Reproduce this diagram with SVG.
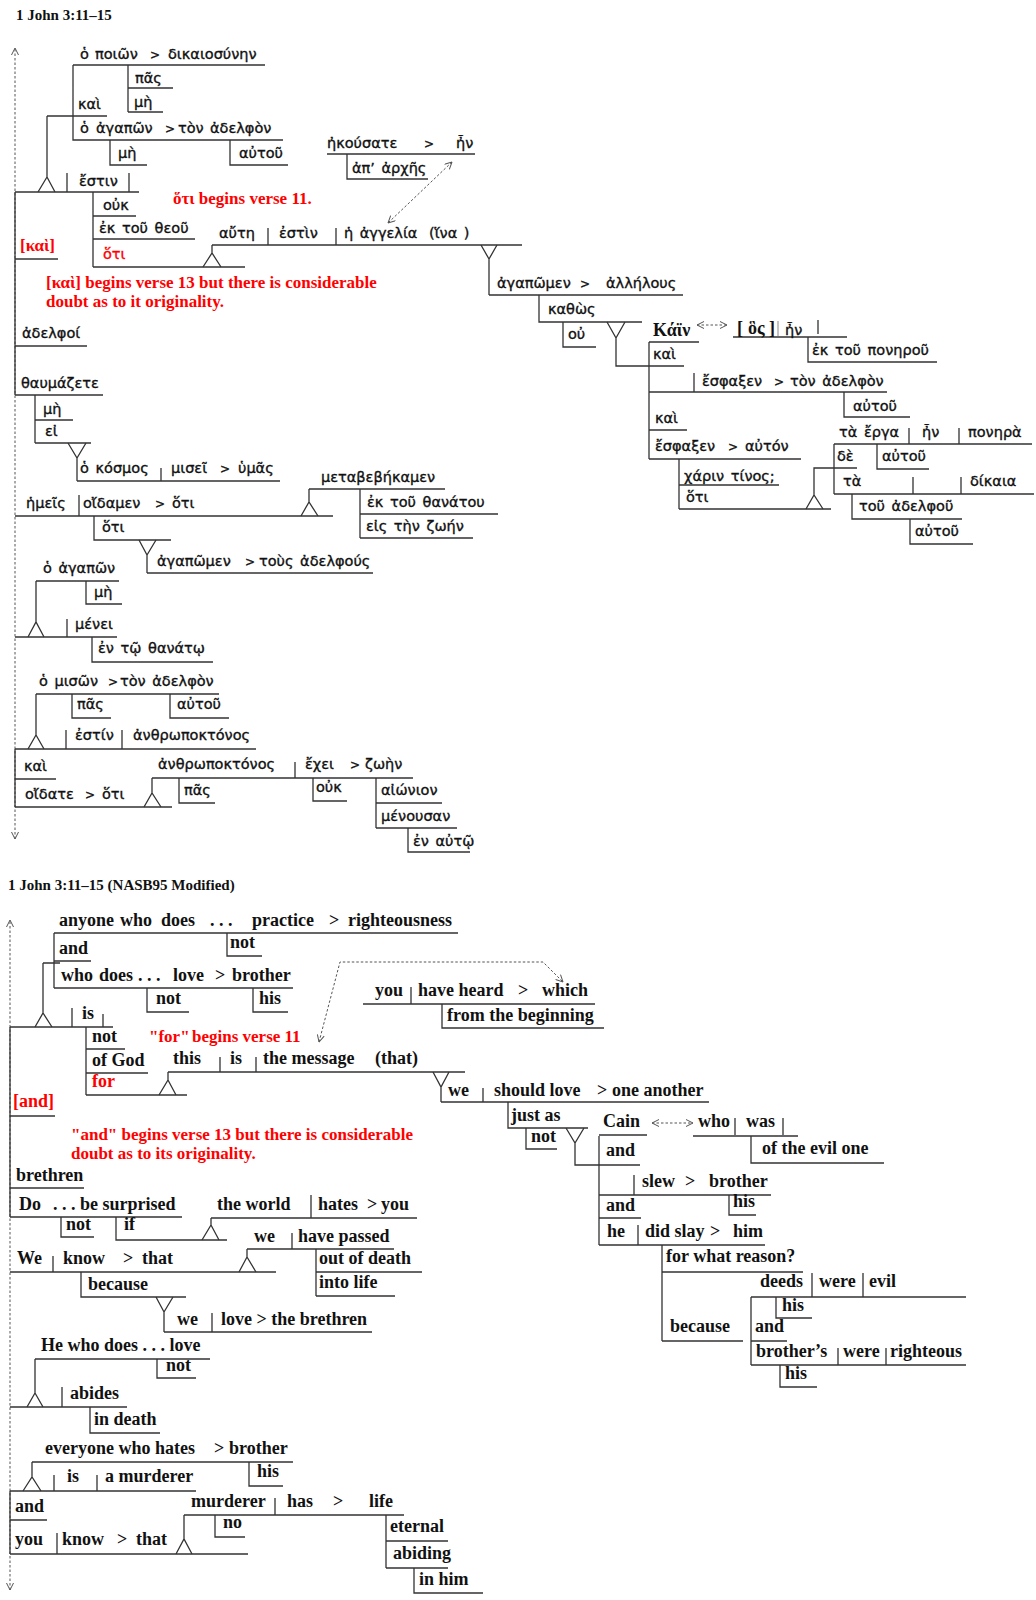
<svg xmlns="http://www.w3.org/2000/svg" width="1036" height="1600" viewBox="0 0 1036 1600">
<style>
.l{stroke:#333;stroke-width:1.3;fill:none}
.d{stroke:#555;stroke-width:1;stroke-dasharray:2.5 2;fill:none}
.g{font-family:"DejaVu Sans",sans-serif;font-size:14.5px;word-spacing:2px;fill:#111;stroke:#111;stroke-width:0.35}
.gt{font-size:12px}
.e{font-family:"Liberation Serif",serif;font-weight:bold;font-size:18px;fill:#111}
.t{font-family:"Liberation Serif",serif;font-weight:bold;font-size:15px;fill:#111}
.r{fill:#f00;stroke:#f00}
.rf{fill:#f00}
.rs{font-family:"Liberation Serif",serif;font-weight:bold;font-size:17px;fill:#f00}
</style>
<defs>
<marker id="ah" viewBox="0 0 8 8" refX="7.5" refY="4" markerWidth="8" markerHeight="8" markerUnits="userSpaceOnUse" orient="auto-start-reverse">
<path d="M0.5,0.5 L7.5,4 L0.5,7.5" fill="none" stroke="#555" stroke-width="1"/>
</marker>
</defs>
<rect width="1036" height="1600" fill="#fff"/>

<text class="t" x="16" y="20">1 John 3:11–15</text>

<g id="connectors">
<path class="d" d="M15 839 V48" marker-start="url(#ah)" marker-end="url(#ah)"/>
<path class="l" d="M15 192 V395 M15 749 V807"/>
<path class="d" d="M452 162 L388 223" marker-start="url(#ah)" marker-end="url(#ah)"/>
<path class="d" d="M697 325 H727" marker-start="url(#ah)" marker-end="url(#ah)"/>
<path class="l" d="M47 116 H107 M47 116 V177 M38 192 L47 177 L55 192"/>
<path class="l" d="M203 267 L212 253 L221 267 M212 253 V245"/>
<path class="l" d="M481 245 L489 259 L497 245 M489 259 V295"/>
<path class="l" d="M607 322 L616 338 L625 322 M616 338 V366 H649"/>
<path class="l" d="M806 509 L814 495 L823 509 M814 495 V468 H834"/>
<path class="l" d="M68 443 L77 458 L86 443 M77 458 V481"/>
<path class="l" d="M301 516 L309 502 L318 516 M309 502 V489"/>
<path class="l" d="M139 540 L147 555 L156 540 M147 555 V573"/>
<path class="l" d="M36 581 V622 M28 637 L36 622 L44 637"/>
<path class="l" d="M36 694 V735 M28 749 L36 735 L44 749"/>
<path class="l" d="M144 807 L152 793 L161 807 M152 793 V778"/>

<path class="d" d="M10 1590 V920" marker-start="url(#ah)" marker-end="url(#ah)"/>
<path class="l" d="M10 1027 V1217 M10 1491 V1554"/>
<path class="d" d="M319 1042 L340 962 H543 L563 982" marker-start="url(#ah)" marker-end="url(#ah)"/>
<path class="d" d="M652 1123 H693" marker-start="url(#ah)" marker-end="url(#ah)"/>
<path class="l" d="M43 963 H60 M43 963 V1013 M35 1027 L43 1013 L52 1027"/>
<path class="l" d="M159 1095 L168 1080 L176 1095 M168 1080 V1072"/>
<path class="l" d="M433 1072 L441 1087 L449 1072 M441 1087 V1102"/>
<path class="l" d="M566 1128 L575 1143 L584 1128 M575 1143 V1165 H599"/>
<path class="l" d="M202 1240 L211 1225 L219 1240 M211 1225 V1218"/>
<path class="l" d="M239 1272 L247 1257 L256 1272 M247 1257 V1249"/>
<path class="l" d="M156 1297 L164 1312 L173 1297 M164 1312 V1332"/>
<path class="l" d="M35 1359 V1393 M27 1407 L35 1393 L43 1407"/>
<path class="l" d="M32 1462 V1477 M23 1491 L32 1477 L41 1491"/>
<path class="l" d="M176 1554 L184 1539 L192 1554 M184 1539 V1515"/>
</g>

<!-- ===== GREEK ===== -->
<g id="g-subj1">
<path class="l" d="M73 65 H265 M128 65 V112 M128 88 H173 M128 112 H163 M73 65 V140 H283 M110 140 V165 H147 M230 140 V165 H288"/>
<text class="g" y="59"><tspan x="80">ὁ</tspan><tspan x="95">ποιῶν</tspan><tspan x="150" class="gt">&gt;</tspan><tspan x="168">δικαιοσύνην</tspan></text>
<text class="g" x="135" y="83">πᾶς</text>
<text class="g" x="134" y="107">μὴ</text>
<text class="g" x="78" y="109">καὶ</text>
<text class="g" y="133"><tspan x="80">ὁ</tspan><tspan x="96">ἀγαπῶν</tspan><tspan x="165" class="gt">&gt;</tspan><tspan x="178">τὸν</tspan><tspan x="210">ἀδελφὸν</tspan></text>
<text class="g" x="118" y="158">μὴ</text>
<text class="g" x="239" y="158">αὐτοῦ</text>
</g>
<g id="g-main1">
<path class="l" d="M15 192 H139 M67 173 V192 M129 173 V192 M93 192 V267 M93 216 H136 M93 239 H195 M93 267 H245"/>
<text class="g" x="79" y="186">ἔστιν</text>
<text class="g" x="103" y="210">οὐκ</text>
<text class="g" x="99" y="233">ἐκ τοῦ θεοῦ</text>
<text class="g r" x="103" y="259">ὅτι</text>
</g>
<g id="g-note11"><text class="rs" x="173" y="204">ὅτι  begins verse 11.</text></g>
<g id="g-aute">
<path class="l" d="M212 245 H522 M268 228 V245 M336 228 V245"/>
<text class="g" y="238"><tspan x="219">αὔτη</tspan><tspan x="279">ἐστὶν</tspan><tspan x="344">ἡ ἀγγελία</tspan><tspan x="429">(ἵνα )</tspan></text>
</g>
<g id="g-ekousate">
<path class="l" d="M327 154 H475 M347 154 V179 H428"/>
<text class="g" y="148"><tspan x="327">ἠκούσατε</tspan><tspan x="424" class="gt">&gt;</tspan><tspan x="456">ἦν</tspan></text>
<text class="g" x="352" y="173">ἀπ’ ἀρχῆς</text>
</g>
<g id="g-kai-note">
<path class="l" d="M15 259 H58"/>
<text class="rs" x="20" y="251">[καὶ]</text>
<text class="rs" x="46" y="288">[καὶ] begins verse 13 but there is considerable</text>
<text class="rs" x="46" y="307">doubt as to it originality.</text>
</g>
<g id="g-agapomen1">
<path class="l" d="M489 295 H683 M539 295 V322 H642 M563 322 V347 H596"/>
<text class="g" y="288"><tspan x="497">ἀγαπῶμεν</tspan><tspan x="580" class="gt">&gt;</tspan><tspan x="606">ἀλλήλους</tspan></text>
<text class="g" x="548" y="314">καθὼς</text>
<text class="g" x="568" y="339">οὐ</text>
</g>
<g id="g-cain">
<path class="l" d="M649 342 V459 M649 342 H699 M649 366 H684 M649 392 H887 M694 373 V392 M844 392 V417 H910 M649 430 H687 M649 459 H801 M679 459 V509 M679 485 H779 M679 509 H831"/>
<text class="e" x="653" y="336" font-size="16">Κάϊν</text>
<text class="g" x="653" y="359">καὶ</text>
<text class="g" y="386"><tspan x="702">ἔσφαξεν</tspan><tspan x="774" class="gt">&gt;</tspan><tspan x="790">τὸν ἀδελφὸν</tspan></text>
<text class="g" x="853" y="411">αὐτοῦ</text>
<text class="g" x="655" y="423">καὶ</text>
<text class="g" y="451"><tspan x="655">ἔσφαξεν</tspan><tspan x="728" class="gt">&gt;</tspan><tspan x="745">αὐτόν</tspan></text>
<text class="g" x="684" y="481">χάριν τίνος;</text>
<text class="g" x="686" y="502">ὅτι</text>
</g>
<g id="g-hos">
<path class="l" d="M733 337 H847 M818 320 V334 M808 337 V362 H937"/>
<path d="M778 321 V336" stroke="#888" stroke-width="1"/>
<text class="e" y="334" font-size="16"><tspan x="737">[</tspan><tspan x="748">ὃς</tspan><tspan x="769">]</tspan></text>
<text class="g" x="785" y="335">ἦν</text>
<text class="g" x="812" y="355">ἐκ τοῦ πονηροῦ</text>
</g>
<g id="g-erga">
<path class="l" d="M834 444 V494 M834 444 H1032 M909 428 V444 M959 428 V444 M877 444 V469 H929 M834 468 H857 M834 494 H1034 M913 477 V494 M961 477 V494 M852 494 V519 H962 M910 519 V544 H973"/>
<text class="g" y="437"><tspan x="839">τὰ ἔργα</tspan><tspan x="922">ἦν</tspan><tspan x="968">πονηρὰ</tspan></text>
<text class="g" x="837" y="461">δὲ</text>
<text class="g" x="882" y="461">αὐτοῦ</text>
<text class="g" y="486"><tspan x="843">τὰ</tspan><tspan x="970">δίκαια</tspan></text>
<text class="g" x="859" y="511">τοῦ ἀδελφοῦ</text>
<text class="g" x="915" y="536">αὐτοῦ</text>
</g>
<g id="g-adelphoi">
<path class="l" d="M15 346 H87"/>
<text class="g" x="22" y="338">ἀδελφοί</text>
</g>
<g id="g-thaumazete">
<path class="l" d="M15 395 H103 M35 395 V443 M35 420 H73 M35 443 H91"/>
<text class="g" x="21" y="388">θαυμάζετε</text>
<text class="g" x="43" y="414">μὴ</text>
<text class="g" x="45" y="436">εἰ</text>
</g>
<g id="g-kosmos">
<path class="l" d="M77 481 H280 M161 468 V481"/>
<text class="g" y="473"><tspan x="80">ὁ κόσμος</tspan><tspan x="171">μισεῖ</tspan><tspan x="220" class="gt">&gt;</tspan><tspan x="238">ὑμᾶς</tspan></text>
</g>
<g id="g-hemeis">
<path class="l" d="M15 516 H333 M79 495 V516 M94 516 V540 H171"/>
<text class="g" y="508"><tspan x="26">ἡμεῖς</tspan><tspan x="83">οἴδαμεν</tspan><tspan x="155" class="gt">&gt;</tspan><tspan x="172">ὅτι</tspan></text>
<text class="g" x="102" y="532">ὅτι</text>
</g>
<g id="g-metabebekamen">
<path class="l" d="M309 489 H445 M360 489 V538 M360 514 H498 M360 538 H473"/>
<text class="g" x="321" y="482">μεταβεβήκαμεν</text>
<text class="g" x="367" y="507">ἐκ τοῦ θανάτου</text>
<text class="g" x="366" y="531">εἰς τὴν ζωήν</text>
</g>
<g id="g-agapomen2">
<path class="l" d="M147 573 H373"/>
<text class="g" y="566"><tspan x="157">ἀγαπῶμεν</tspan><tspan x="245" class="gt">&gt;</tspan><tspan x="259">τοὺς ἀδελφούς</tspan></text>
</g>
<g id="g-menei">
<path class="l" d="M36 581 H119 M86 581 V604 H122 M15 637 H117 M67 619 V637 M92 637 V662 H213"/>
<text class="g" x="43" y="573">ὁ ἀγαπῶν</text>
<text class="g" x="94" y="597">μὴ</text>
<text class="g" x="75" y="629">μένει</text>
<text class="g" x="98" y="653">ἐν τῷ θανάτῳ</text>
</g>
<g id="g-miswn">
<path class="l" d="M36 694 H219 M72 694 V718 H111 M170 694 V718 H229 M15 749 H256 M66 730 V749 M122 730 V749"/>
<text class="g" y="686"><tspan x="39">ὁ μισῶν</tspan><tspan x="108" class="gt">&gt;</tspan><tspan x="120">τὸν ἀδελφὸν</tspan></text>
<text class="g" x="77" y="709">πᾶς</text>
<text class="g" x="177" y="709">αὐτοῦ</text>
<text class="g" y="740"><tspan x="75">ἐστίν</tspan><tspan x="133">ἀνθρωποκτόνος</tspan></text>
</g>
<g id="g-oidate">
<path class="l" d="M15 779 H56 M15 807 H172"/>
<text class="g" x="24" y="771">καὶ</text>
<text class="g" y="799"><tspan x="25">οἴδατε</tspan><tspan x="85" class="gt">&gt;</tspan><tspan x="102">ὅτι</tspan></text>
</g>
<g id="g-exei">
<path class="l" d="M152 778 H413 M295 762 V778 M179 778 V803 H215 M313 778 V801 H347 M376 778 V828 M376 803 H442 M376 828 H457 M408 828 V852 H470"/>
<text class="g" y="769"><tspan x="158">ἀνθρωποκτόνος</tspan><tspan x="305">ἔχει</tspan><tspan x="350" class="gt">&gt;</tspan><tspan x="365">ζωὴν</tspan></text>
<text class="g" x="184" y="795">πᾶς</text>
<text class="g" x="316" y="792">οὐκ</text>
<text class="g" x="381" y="795">αἰώνιον</text>
<text class="g" x="381" y="821">μένουσαν</text>
<text class="g" x="413" y="846">ἐν αὐτῷ</text>
</g>

<!-- ===== ENGLISH ===== -->
<text class="t" x="8" y="890" font-size="15.5">1 John 3:11–15 (NASB95 Modified)</text>
<g id="e-anyone">
<path class="l" d="M54 933 H458 M54 933 V988 M227 933 V956 H262 M54 961 H91 M54 988 H293 M147 988 V1012 H189 M253 988 V1012 H288"/>
<text class="e" y="926"><tspan x="59">anyone</tspan><tspan x="120">who</tspan><tspan x="161">does</tspan><tspan x="210">. . .</tspan><tspan x="252">practice</tspan><tspan x="329">&gt;</tspan><tspan x="348">righteousness</tspan></text>
<text class="e" x="230" y="948">not</text>
<text class="e" x="59" y="954">and</text>
<text class="e" y="981"><tspan x="61">who</tspan><tspan x="99">does</tspan><tspan x="138">. . .</tspan><tspan x="173">love</tspan><tspan x="215">&gt;</tspan><tspan x="232">brother</tspan></text>
<text class="e" x="156" y="1004">not</text>
<text class="e" x="259" y="1004">his</text>
</g>
<g id="e-is">
<path class="l" d="M10 1027 H113 M72 1008 V1027 M103 1014 V1027 M86 1027 V1095 M86 1049 H125 M86 1073 H148 M86 1095 H187"/>
<text class="e" x="82" y="1019">is</text>
<text class="e" x="92" y="1042">not</text>
<text class="e" x="92" y="1066">of God</text>
<text class="e rf" x="92" y="1087">for</text>
</g>
<g id="e-note11"><text class="rs" y="1042"><tspan x="149">"for"</tspan><tspan x="192">begins verse 11</tspan></text></g>
<g id="e-message">
<path class="l" d="M168 1072 H465 M220 1057 V1072 M256 1057 V1072"/>
<text class="e" y="1064"><tspan x="173">this</tspan><tspan x="230">is</tspan><tspan x="263">the message</tspan><tspan x="375">(that)</tspan></text>
</g>
<g id="e-heard">
<path class="l" d="M363 1004 H595 M411 987 V1004 M442 1004 V1028 H604"/>
<text class="e" y="996"><tspan x="375">you</tspan><tspan x="418">have heard</tspan><tspan x="518">&gt;</tspan><tspan x="542">which</tspan></text>
<text class="e" x="447" y="1021">from the beginning</text>
</g>
<g id="e-and-note">
<path class="l" d="M10 1116 H55"/>
<text class="e rf" x="13" y="1107">[and]</text>
<text class="rs" x="71" y="1140">"and" begins verse 13 but  there is considerable</text>
<text class="rs" x="71" y="1159">doubt as to its originality.</text>
</g>
<g id="e-shouldlove">
<path class="l" d="M441 1102 H709 M483 1088 V1102 M508 1102 V1128 H588 M526 1128 V1149 H557"/>
<text class="e" y="1096"><tspan x="448">we</tspan><tspan x="494">should love</tspan><tspan x="597">&gt;</tspan><tspan x="612">one another</tspan></text>
<text class="e" x="511" y="1121">just as</text>
<text class="e" x="531" y="1142">not</text>
</g>
<g id="e-cain">
<path class="l" d="M599 1136 V1245 M599 1135 H647 M599 1165 H640 M599 1195 H771 M634 1175 V1195 M729 1195 V1215 H756 M599 1218 H641 M599 1245 H765 M638 1225 V1245 M662 1245 V1341 M662 1272 H803 M662 1341 H743"/>
<text class="e" x="603" y="1127">Cain</text>
<text class="e" x="606" y="1156">and</text>
<text class="e" y="1187"><tspan x="642">slew</tspan><tspan x="685">&gt;</tspan><tspan x="709">brother</tspan></text>
<text class="e" x="733" y="1207">his</text>
<text class="e" x="606" y="1211">and</text>
<text class="e" y="1237"><tspan x="607">he</tspan><tspan x="645">did slay</tspan><tspan x="710">&gt;</tspan><tspan x="733">him</tspan></text>
<text class="e" x="666" y="1262">for what reason?</text>
<text class="e" x="670" y="1332">because</text>
</g>
<g id="e-who">
<path class="l" d="M693 1136 H798 M735 1118 V1135 M783 1118 V1135 M751 1136 V1163 H884"/>
<text class="e" y="1127"><tspan x="698">who</tspan><tspan x="746">was</tspan></text>
<text class="e" x="762" y="1154">of the evil one</text>
</g>
<g id="e-deeds">
<path class="l" d="M751 1297 V1365 M751 1297 H966 M812 1273 V1297 M863 1273 V1297 M776 1297 V1318 H812 M751 1341 H787 M751 1365 H966 M838 1348 V1365 M886 1348 V1365 M780 1365 V1387 H817"/>
<text class="e" y="1287"><tspan x="760">deeds</tspan><tspan x="819">were</tspan><tspan x="869">evil</tspan></text>
<text class="e" x="782" y="1311">his</text>
<text class="e" x="755" y="1332">and</text>
<text class="e" y="1357"><tspan x="756">brother’s</tspan><tspan x="843">were</tspan><tspan x="890">righteous</tspan></text>
<text class="e" x="785" y="1379">his</text>
</g>
<g id="e-brethren">
<path class="l" d="M10 1188 H84"/>
<text class="e" x="16" y="1181">brethren</text>
</g>
<g id="e-surprised">
<path class="l" d="M10 1217 H182 M61 1217 V1237 H94 M116 1217 V1240 H227"/>
<text class="e" y="1210"><tspan x="19">Do</tspan><tspan x="53">. . . be surprised</tspan></text>
<text class="e" x="66" y="1230">not</text>
<text class="e" x="124" y="1230">if</text>
</g>
<g id="e-world">
<path class="l" d="M211 1218 H417 M311 1195 V1218"/>
<text class="e" y="1210"><tspan x="217">the world</tspan><tspan x="318">hates</tspan><tspan x="367">&gt;</tspan><tspan x="381">you</tspan></text>
</g>
<g id="e-know">
<path class="l" d="M10 1272 H276 M53 1256 V1272 M81 1272 V1297 H186"/>
<text class="e" y="1264"><tspan x="17">We</tspan><tspan x="63">know</tspan><tspan x="123">&gt;</tspan><tspan x="142">that</tspan></text>
<text class="e" x="88" y="1290">because</text>
</g>
<g id="e-passed">
<path class="l" d="M247 1249 H394 M292 1233 V1249 M316 1249 V1296 M316 1272 H422 M316 1296 H395"/>
<text class="e" y="1242"><tspan x="254">we</tspan><tspan x="298">have passed</tspan></text>
<text class="e" x="319" y="1264">out of death</text>
<text class="e" x="319" y="1288">into life</text>
</g>
<g id="e-love">
<path class="l" d="M164 1332 H372 M212 1313 V1332"/>
<text class="e" y="1325"><tspan x="177">we</tspan><tspan x="221">love &gt; the brethren</tspan></text>
</g>
<g id="e-abides">
<path class="l" d="M35 1359 H210 M157 1359 V1378 H196 M10 1407 H127 M62 1387 V1407 M90 1407 V1433 H160"/>
<text class="e" x="41" y="1351">He who does . . . love</text>
<text class="e" x="166" y="1371">not</text>
<text class="e" x="70" y="1399">abides</text>
<text class="e" x="94" y="1425">in death</text>
</g>
<g id="e-murderer">
<path class="l" d="M32 1462 H293 M249 1462 V1486 H283 M10 1491 H196 M54 1475 V1491 M97 1475 V1491"/>
<text class="e" y="1454" font-size="17"><tspan x="45">everyone who hates</tspan><tspan x="214">&gt;</tspan><tspan x="229">brother</tspan></text>
<text class="e" x="257" y="1477">his</text>
<text class="e" y="1482"><tspan x="67">is</tspan><tspan x="105">a murderer</tspan></text>
</g>
<g id="e-youknow">
<path class="l" d="M10 1520 H47 M10 1554 H248 M57 1533 V1554"/>
<text class="e" x="15" y="1512">and</text>
<text class="e" y="1545"><tspan x="15">you</tspan><tspan x="62">know</tspan><tspan x="117">&gt;</tspan><tspan x="136">that</tspan></text>
</g>
<g id="e-has">
<path class="l" d="M184 1515 H404 M275 1498 V1515 M215 1515 V1537 H245 M386 1515 V1568 M386 1541 H448 M386 1568 H448 M414 1568 V1593 H483"/>
<text class="e" y="1507"><tspan x="191">murderer</tspan><tspan x="287">has</tspan><tspan x="333">&gt;</tspan><tspan x="369">life</tspan></text>
<text class="e" x="223" y="1528">no</text>
<text class="e" x="390" y="1532">eternal</text>
<text class="e" x="393" y="1559">abiding</text>
<text class="e" x="419" y="1585">in him</text>
</g>
</svg>
